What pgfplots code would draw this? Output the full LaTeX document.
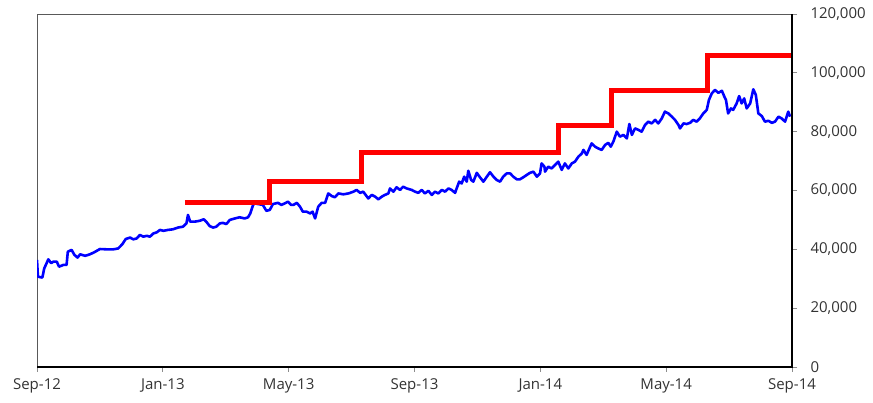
\documentclass[border=0pt]{standalone}
\usepackage{fontspec}
\setmainfont{Open Sans}
\usepackage{pgfplots}
\pgfplotsset{compat=1.18}
\begin{document}
\begin{tikzpicture}
\begin{axis}[
  name=ax,
  scale only axis, width=755pt, height=353pt,
  xmin=0, xmax=24, ymin=0, ymax=120000,
  xtick={0,4,8,12,16,20,24},
  xticklabels={Sep-12,Jan-13,May-13,Sep-13,Jan-14,May-14,Sep-14},
  ytick={0,20000,40000,60000,80000,100000,120000},
  scaled y ticks=false,
  xtick pos=bottom, ytick pos=right, yticklabel pos=right,
  tick align=outside,
  major tick length=5pt,
  tick style={black!45, line width=0.8pt},
  tick label style={font=\fontsize{15}{17}\selectfont, text=black!80},
  yticklabel style={xshift=10pt, /pgf/number format/.cd, fixed, 1000 sep={,}, assume math mode=true},
  xticklabel style={yshift=-3.5pt},
  axis line style={draw=black!65, line width=0.8pt},
  after end axis/.code={
    \draw[black, line width=1.1pt] (rel axis cs:0,0) -- (rel axis cs:1,0) -- (rel axis cs:1,1);
  },
]
\addplot[blue, line width=2.6pt, line join=round] coordinates {
(0.00,36400)(0.03,30700)(0.17,30400)(0.23,33500)(0.36,36600)(0.45,35300)(0.52,35800)(0.63,35800)
(0.70,34100)(0.84,34700)(0.94,34700)(0.98,39200)(1.10,39800)(1.19,38100)(1.29,37200)(1.37,38300)
(1.53,37800)(1.68,38300)(1.82,39000)(2.00,40100)(2.22,40000)(2.43,40000)(2.58,40300)(2.71,41700)
(2.82,43500)(2.96,44000)(3.06,43400)(3.17,43700)(3.27,44900)(3.38,44300)(3.49,44600)(3.59,44300)
(3.70,45400)(3.81,45800)(3.91,46600)(4.02,46300)(4.16,46600)(4.32,46800)(4.48,47400)(4.64,47700)
(4.75,48800)(4.80,51700)(4.87,49400)(5.01,49400)(5.17,49700)(5.30,50200)(5.38,49400)(5.49,47900)
(5.60,47400)(5.70,47700)(5.81,48800)(5.91,49000)(6.02,48600)(6.13,50000)(6.29,50500)(6.44,50900)
(6.60,50500)(6.71,50900)(6.78,52200)(6.87,55100)(6.92,55600)(7.18,55100)(7.29,53100)(7.40,53400)
(7.50,55400)(7.66,55800)(7.77,55100)(7.87,55600)(7.98,56200)(8.08,55100)(8.15,55100)(8.26,55800)
(8.36,54500)(8.45,52800)(8.57,52800)(8.68,52200)(8.76,52800)(8.84,50500)(8.94,54500)(9.05,55800)
(9.16,55800)(9.26,59000)(9.37,58100)(9.47,57700)(9.58,59000)(9.74,58700)(9.90,59000)(10.06,59600)
(10.16,60200)(10.27,59200)(10.37,59600)(10.53,57300)(10.64,58500)(10.75,57900)(10.85,57000)(10.96,57900)
(11.06,58500)(11.17,59000)(11.22,60700)(11.33,59600)(11.43,61100)(11.54,60200)(11.64,61300)(11.75,60700)
(11.91,60200)(12.02,59600)(12.12,59200)(12.23,60200)(12.33,59000)(12.44,59900)(12.55,58500)(12.65,59600)
(12.76,59000)(12.87,60200)(12.97,59600)(13.08,60700)(13.18,60200)(13.29,59200)(13.34,60700)(13.42,63000)
(13.50,62400)(13.58,64700)(13.66,63000)(13.71,66700)(13.80,63600)(13.87,63000)(13.98,66000)(14.08,64500)
(14.19,63000)(14.30,64700)(14.40,66200)(14.51,64700)(14.61,63600)(14.72,63000)(14.82,64700)(14.93,65800)
(15.04,65800)(15.14,64700)(15.25,63800)(15.35,63800)(15.46,64500)(15.57,65300)(15.67,66000)(15.78,66400)
(15.89,64700)(15.99,65800)(16.04,69200)(16.13,68100)(16.15,66400)(16.25,68100)(16.36,67500)(16.47,68700)
(16.57,69800)(16.68,67000)(16.78,69200)(16.89,67500)(17.00,69200)(17.10,69800)(17.21,71500)(17.32,72600)
(17.37,73800)(17.47,72100)(17.63,76000)(17.74,74900)(17.84,74300)(17.95,73800)(18.06,75500)(18.16,76200)
(18.24,74900)(18.32,76600)(18.43,80000)(18.53,78300)(18.64,78900)(18.75,77700)(18.83,82600)(18.91,78900)
(19.01,81100)(19.12,80600)(19.22,80000)(19.33,82300)(19.43,83400)(19.54,82800)(19.65,84000)(19.75,82800)
(19.86,84500)(19.96,86800)(20.07,86200)(20.18,85100)(20.28,84000)(20.39,82300)(20.44,81100)(20.55,82800)
(20.65,82600)(20.76,83000)(20.86,84000)(20.97,83400)(21.07,84500)(21.18,86200)(21.29,87400)(21.36,90800)
(21.45,93000)(21.55,94200)(21.66,93200)(21.77,93900)(21.85,91900)(21.90,90800)(21.97,86200)(22.06,87900)
(22.13,87400)(22.24,89600)(22.32,92100)(22.40,89600)(22.48,91300)(22.56,87900)(22.67,89600)(22.77,94400)
(22.85,92500)(22.93,86200)(23.04,85300)(23.14,83400)(23.25,83700)(23.36,83000)(23.46,83400)(23.57,85100)
(23.67,84500)(23.78,83400)(23.88,86800)(23.94,85100)
};
\addplot[red, line width=5pt, const plot, line join=miter] coordinates {
(4.70,56000)(7.39,63000)(10.33,73000)(16.58,82000)(18.26,94000)(21.30,106000)(24.00,106000)
};
\end{axis}
\path ([shift={(-37pt,-36pt)}]ax.south west) rectangle ([shift={(81pt,14pt)}]ax.north east);
\end{tikzpicture}
\end{document}
